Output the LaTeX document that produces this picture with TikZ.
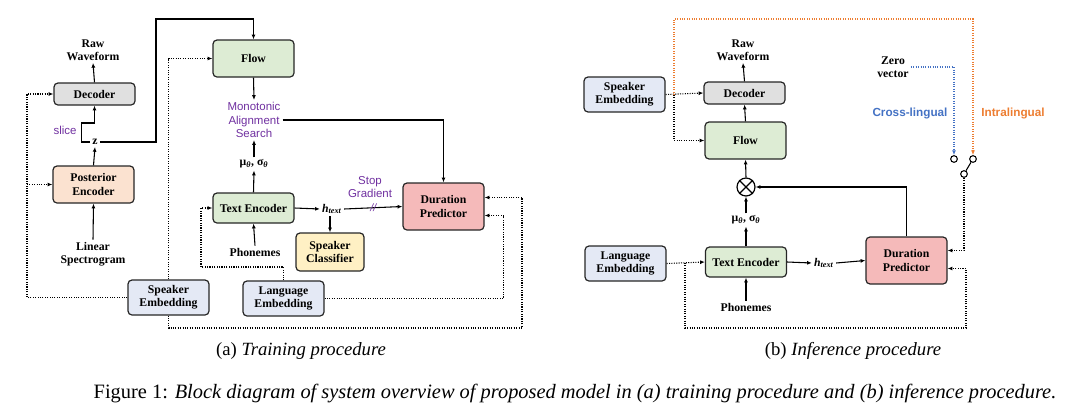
\documentclass[tikz,border=0pt]{standalone}
\usepackage{fontspec}
\setmainfont{Liberation Serif}
\newfontfamily\helv{Liberation Sans}
\usetikzlibrary{arrows.meta,positioning,calc}
\definecolor{masviolet}{RGB}{112,48,160}
\definecolor{crossblue}{RGB}{68,114,196}
\definecolor{intraorange}{RGB}{237,125,49}
\definecolor{decgrey}{RGB}{224,224,224}
\definecolor{postpeach}{RGB}{251,226,208}
\definecolor{flowgreen}{RGB}{221,236,212}
\definecolor{embblue}{RGB}{228,233,245}
\definecolor{clsyellow}{RGB}{255,240,196}
\definecolor{durpink}{RGB}{245,186,186}
\newcommand{\musig}{μ\textsubscript{\textit{θ}}, σ\textsubscript{\textit{θ}}}
\newcommand{\htext}{\textit{h}\textsubscript{\textit{text}}}

\begin{document}
\begin{tikzpicture}[x=0.75pt,y=-0.75pt,
  font=\fontsize{8.8}{10}\selectfont\bfseries, >={Latex[length=3.6pt,width=3pt]},
  blk/.style={rectangle,draw=black!85,line width=0.9pt,rounded corners=3pt,align=center,inner sep=1pt,minimum width=60.75pt},
  lbl/.style={align=center,inner sep=1.5pt},
  pur/.style={lbl,font=\fontsize{8.6}{10.2}\selectfont\helv,text=masviolet},
  captxt/.style={lbl,font=\fontsize{14}{16}\selectfont},
  arr/.style={->,draw=black,line width=0.8pt},
  dotarr/.style={->,draw=black,line width=0.8pt,densely dotted},
  sw/.style={circle,draw=black,line width=0.8pt,inner sep=0pt,minimum size=5pt}]
\useasboundingbox (0,0) rectangle (1070,415);

% (a) training procedure
\node[blk,fill=decgrey,minimum height=16.5pt] (decA) at (94.5,94) {Decoder};
\node[lbl] (rawA) at (93,50) {Raw\\Waveform};
\node[lbl] (zA) at (95,142) {z};
\node[pur] (sliceA) at (65,130) {slice};
\node[blk,fill=postpeach,minimum height=27.75pt] (peA) at (93.5,184.5) {Posterior\\Encoder};
\node[lbl] (linA) at (93,254) {Linear\\Spectrogram};
\node[blk,fill=flowgreen,minimum height=27.75pt] (flowA) at (253.5,58.5) {Flow};
\node[pur] (masA) at (254,120) {Monotonic\\Alignment\\Search};
\node[lbl] (muA) at (254,164) {\musig};
\node[blk,fill=flowgreen,minimum height=22.5pt] (teA) at (253.5,208) {Text Encoder};
\node[lbl] (htA) at (332,209) {\htext};
\node[pur] (sgA) at (370,187) {Stop\\Gradient};
\node[blk,fill=clsyellow,minimum width=51pt,minimum height=28.5pt] (scA) at (330,252) {Speaker\\Classifier};
\node[blk,fill=durpink,minimum height=35.25pt] (dpA) at (443.5,206.5) {Duration\\Predictor};
\node[lbl] (phA) at (255,252) {Phonemes};
\node[blk,fill=embblue,minimum height=26.25pt] (seA) at (168.5,297.5) {Speaker\\Embedding};
\node[blk,fill=embblue,minimum height=26.25pt] (leA) at (283.5,298.5) {Language\\Embedding};
\coordinate (lftA) at (27,94);
\coordinate (zup) at (156,19);
\coordinate (botA) at (522,328);
\coordinate (teL) at (201,267);

\draw[arr] (decA.north) -- (rawA.south);
\draw[arr] (zA.west) -| ++(-9,-19) -| (decA.south);
\draw[arr] (zA.east) -| (zup) -| (flowA.north);
\draw[arr] (peA.north) -- (zA.south);
\draw[arr] (linA.north) -- (peA.south);
\draw[dotarr] (seA.west) -| (lftA) -- (decA.west);
\draw[dotarr] (lftA |- peA.west) -- (peA.west);
\draw[dotarr] (seA.north) |- (flowA.west);
\draw[dotarr] (seA.south) |- (botA) |- ([yshift=6.75pt]dpA.east);
\draw[dotarr] (leA.east) -| ([xshift=14.25pt,yshift=-6.75pt]dpA.east) -- ([yshift=-6.75pt]dpA.east);
\draw[dotarr] (leA.north) |- (teL) |- (teA.west);
\draw[arr] (flowA.south) -- (masA.north);
\draw[arr] (muA.north) -- (masA.south);
\draw[arr] (teA.north) -- (muA.south);
\draw[arr] (masA.east) -| (dpA.north);
\draw[arr] (teA.east) -- (htA.west);
\draw[arr] (htA.east) -- node[pur,font=\fontsize{8}{9}\selectfont\helv\itshape]{//} (dpA.west);
\draw[arr] (htA.south -| scA.north) -- (scA.north);
\draw[arr] (phA.north) -- (teA.south);

% (b) inference procedure
\node[blk,fill=embblue,minimum height=26.25pt] (seB) at (624.5,94.5) {Speaker\\Embedding};
\node[blk,fill=decgrey,minimum height=16.5pt] (decB) at (744.5,93) {Decoder};
\node[lbl] (rawB) at (743,50) {Raw\\Waveform};
\node[blk,fill=flowgreen,minimum height=27.75pt] (flowB) at (745.5,140.5) {Flow};
\node[circle,draw=black,line width=0.9pt,minimum size=13.5pt,inner sep=0pt] (otB) at (746,187) {};
\draw[line width=0.9pt] (otB.north east) -- (otB.south west) (otB.north west) -- (otB.south east);
\node[lbl] (muB) at (746,220) {\musig};
\node[blk,fill=flowgreen,minimum height=22.5pt] (teB) at (746,262) {Text Encoder};
\node[lbl] (phB) at (746,307) {Phonemes};
\node[blk,fill=embblue,minimum height=26.25pt] (leB) at (625.5,263.5) {Language\\Embedding};
\node[lbl] (htB) at (824,263) {\htext};
\node[blk,fill=durpink,minimum height=35.25pt] (dpB) at (906.5,260.5) {Duration\\Predictor};
\node[lbl] (zero) at (893,67) {Zero\\vector};
\node[lbl,font=\fontsize{8.8}{10}\selectfont\helv\bfseries,text=crossblue] (cross) at (910,113) {Cross-lingual};
\node[lbl,font=\fontsize{8.8}{10}\selectfont\helv\bfseries,text=intraorange] (intra) at (1013,113) {Intralingual};
\node[sw] (swL) at (954,159) {};
\node[sw] (swR) at (973,159) {};
\node[sw] (swC) at (964,174) {};
\coordinate (brB) at (674,95);
\coordinate (topB) at (973,19);
\coordinate (brL) at (685,263);
\coordinate (botB) at (966,328);

\draw[arr] (decB.north) -- (rawB.south);
\draw[arr] (flowB.north) -- (decB.south);
\draw[arr] (otB.north) -- (flowB.south);
\draw[arr] (muB.north) -- (otB.south);
\draw[arr] (teB.north) -- (muB.south);
\draw[arr] (phB.north) -- (teB.south);
\draw[dotarr] (seB.east) -- (decB.west);
\draw[dotarr] (brB) |- (flowB.west);
\draw[dotarr,draw=intraorange,-{Latex[length=3.6pt,width=3pt,color=intraorange]}] (brB) |- (topB) -- (swR.north);
\draw[dotarr] (leB.east) -- (teB.west);
\draw[dotarr] (brL) |- (botB) |- ([yshift=-6pt]dpB.east);
\draw[arr] (teB.east) -- (htB.west);
\draw[arr] (htB.east) -- (dpB.west);
\draw[arr] (dpB.north) |- (otB.east);
\draw[dotarr,draw=crossblue,-{Latex[length=3.6pt,width=3pt,color=crossblue]}] (zero.east) -| (swL.north);
\draw[line width=0.8pt] (swC) -- (swR);
\draw[dotarr] (swC.south) |- ([yshift=7.5pt]dpB.east);

% captions
\node[captxt] (capA) at (301,351) {(a) \textit{Training procedure}};
\node[captxt] (capB) at (853,351) {(b) \textit{Inference procedure}};
\node[captxt,font=\fontsize{15.3}{17}\selectfont] (fig) at (575,394) {Figure 1: \textit{Block diagram of system overview of proposed model in (a) training procedure and (b) inference procedure.}};
\end{tikzpicture}
\end{document}
